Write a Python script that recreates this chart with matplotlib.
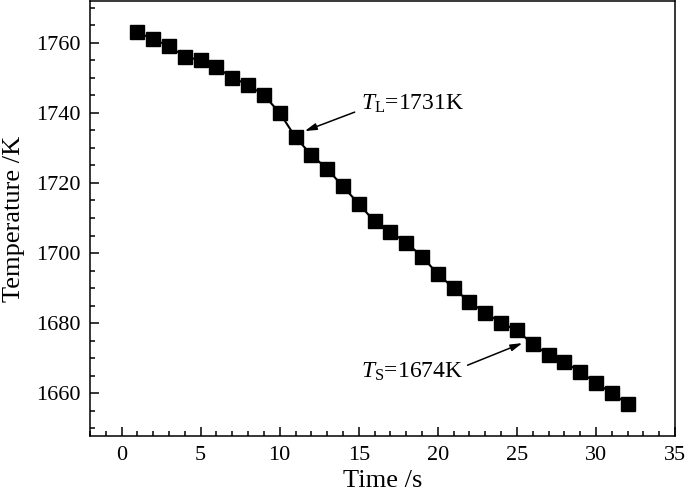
import matplotlib
matplotlib.use("Agg")
import matplotlib.pyplot as plt
from matplotlib.ticker import MultipleLocator

plt.rcParams['font.family'] = ['Liberation Serif', 'DejaVu Serif']
plt.rcParams['mathtext.fontset'] = 'custom'
plt.rcParams['mathtext.rm'] = 'Liberation Serif'
plt.rcParams['mathtext.it'] = 'Liberation Serif:italic'

time_s = list(range(1, 33))
temperature_K = [1763, 1761, 1759, 1756, 1755, 1753, 1750, 1748, 1745, 1740,
                 1733, 1728, 1724, 1719, 1714, 1709, 1706, 1703, 1699, 1694,
                 1690, 1686, 1683, 1680, 1678, 1674, 1671, 1669, 1666, 1663,
                 1660, 1657]

fig = plt.figure(figsize=(6.85, 4.96), dpi=100)
ax = fig.add_axes([90/685, 1-436/496, 585/685, 435/496])

ax.plot(time_s, temperature_K, color='black', lw=1.5, marker='s',
        markersize=9.5, markerfacecolor='black', markeredgecolor='black')

ax.set_xlim(-2, 35)
ax.set_ylim(1647.8, 1771.9)
ax.xaxis.set_major_locator(MultipleLocator(5))
ax.xaxis.set_minor_locator(MultipleLocator(1))
ax.yaxis.set_major_locator(MultipleLocator(20))
ax.yaxis.set_minor_locator(MultipleLocator(5))
ax.tick_params(which='both', direction='in', top=False, right=False, labelsize=16, width=1.1)
ax.tick_params(which='major', length=6.5, pad=7)
ax.tick_params(which='minor', length=3.5)
for s in ax.spines.values():
    s.set_linewidth(1.1)

ax.set_xlabel('Time /s', fontsize=19, labelpad=4)
ax.set_ylabel('Temperature /K', fontsize=19, labelpad=8)

arrow = dict(arrowstyle='-|>,head_length=0.7,head_width=0.2', lw=1.1, color='black',
             shrinkA=0, shrinkB=0)
ax.annotate('', xy=(11.58, 1734.8), xytext=(14.74, 1740.2), arrowprops=arrow)
ax.text(15.16, 1741.0, r'$T_{\mathrm{L}}$=1731K', fontsize=17, va='baseline', ha='left')
ax.annotate('', xy=(25.35, 1674.3), xytext=(21.88, 1668.0), arrowprops=arrow)
ax.text(15.16, 1664.3, r'$T_{\mathrm{S}}$=1674K', fontsize=17, va='baseline', ha='left')

fig.savefig('out.png', dpi=100)
